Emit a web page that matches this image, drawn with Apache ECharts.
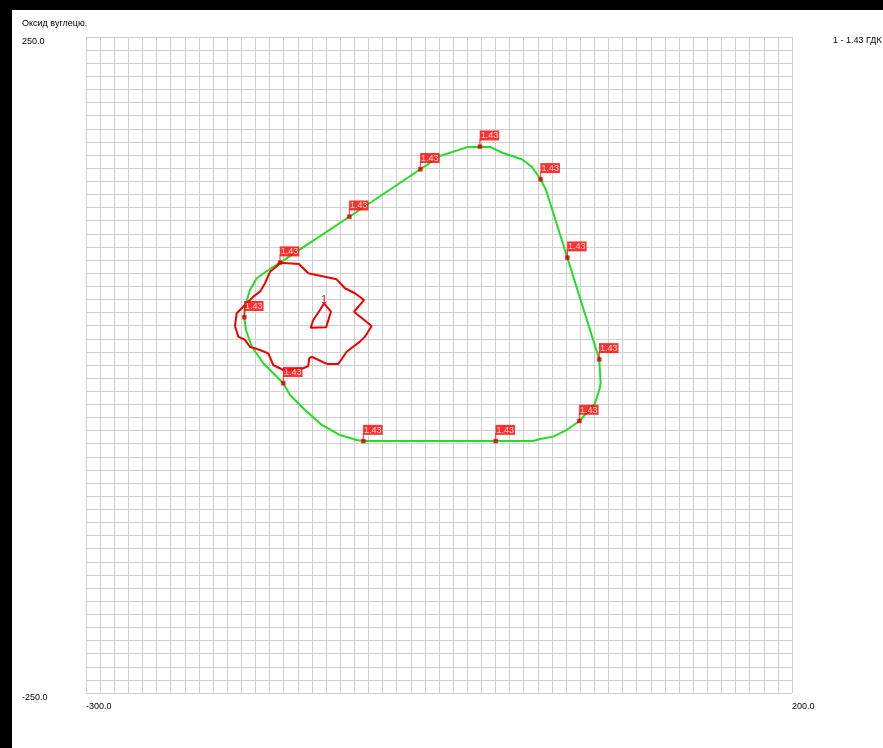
<!DOCTYPE html>
<html>
<head>
<meta charset="utf-8">
<script src="https://cdn.jsdelivr.net/npm/echarts@6/dist/echarts.min.js"></script>
<style>
html,body{margin:0;padding:0;background:#000;width:883px;height:748px;overflow:hidden;}
#c{position:absolute;left:12px;top:10px;width:871px;height:738px;background:#fff;}
</style>
</head>
<body>
<div id="c"></div>
<script>
// ---- data ----
var titleText = 'Оксид вуглецю.';
var legendText = '1 - 1.43 ГДК';
var xMin = -300, xMax = 200, yMin = -250, yMax = 250, step = 10;
var xTickLabels = ['-300.0', '200.0'];
var yTickLabels = ['-250.0', '250.0'];

var greenContour = [[-162.6,78.0],[-113.5,113.0],[-63.2,149.2],[-49.3,159.3],[-30.4,165.9],[-21,166.4],[-13.9,166.2],[-4.7,161.6],[8.6,156.8],[15.7,151.1],[22,141.5],[25.8,133.4],[40.9,81.8],[63.5,4.3],[64.5,-13.9],[63.5,-19],[60.5,-29.2],[49.4,-42.7],[40.4,-49.5],[31,-54.6],[21.5,-56.4],[16.8,-57.9],[-9.8,-58],[-103.6,-58],[-108.3,-57.2],[-120.1,-53.4],[-132.9,-45.7],[-144.9,-34.3],[-155.5,-22.9],[-160.3,-13.9],[-174.4,1.3],[-182.6,13.9],[-186.7,26.7],[-187.9,36.4],[-187.4,44.4],[-183.9,57.2],[-179.1,66.1],[-170.9,72.4],[-162.6,78.0]];

var redContour = [[-162.6,78.0],[-149.2,77.0],[-142.6,69.9],[-122.5,65.3],[-116.6,58.5],[-109.5,54.7],[-103.1,49.5],[-110.2,40.6],[-97.7,29.7],[-102.4,21.6],[-106,17.8],[-115.4,10.1],[-121.3,0.8],[-129.5,0.8],[-140.2,6.3],[-141.9,5.1],[-142.6,-0.8],[-146.1,-2.5],[-160.3,-3.8],[-167.4,0],[-170.9,8.9],[-176.8,11.4],[-183.9,13.9],[-187.4,19.1],[-192.1,21.6],[-194.5,29.7],[-193.3,39.4],[-187.4,45.7],[-181.5,52.1],[-176.8,55.9],[-173.2,62.3],[-169.7,71.1],[-163.8,76.2],[-162.6,78.0]];

var redInner = [[-131.4,47],[-126.5,40.6],[-130,28.7],[-140.9,28.4],[-139,34.3],[-134.3,41.9],[-131.4,47]];
var innerLabelPoint = [[-131.4,49.5]];
var innerLabelText = '1';

var markerPoints = [[-162.6,78],[-187.9,36.4],[-160.3,-13.9],[-113.5,113],[-63.2,149.2],[-21,166.4],[22,141.5],[40.9,81.8],[63.5,4.3],[49.4,-42.7],[-9.8,-58],[-103.6,-58]];
var markerValue = 1.43;

// ---- chart ----
var FONT = '"Liberation Sans", Arial, sans-serif';
var chart = echarts.init(document.getElementById('c'), null, {renderer:'canvas'});

function fmt1(v){ return Number(v).toFixed(1); }

var option = {
  animation: false,
  title: [
    {text: titleText, left: 10, top: 9, padding: 0,
     textStyle:{fontSize:9, fontWeight:'normal', color:'#000', fontFamily:FONT, lineHeight:10}},
    {text: legendText, left: 821, top: 26, padding: 0,
     textStyle:{fontSize:9, fontWeight:'normal', color:'#000', fontFamily:FONT, lineHeight:10}}
  ],
  grid: {left: 74, top: 27, width: 706, height: 656, containLabel:false},
  xAxis: {
    type:'value', min:xMin, max:xMax, interval:step,
    axisLine:{show:false}, axisTick:{show:false},
    splitLine:{show:true, lineStyle:{color:'#cfcfcf', width:1}},
    axisLabel:{show:true, align:'left', margin:9, fontSize:9, color:'#000', fontFamily:FONT,
      formatter:function(v){ var s=fmt1(v); return xTickLabels.indexOf(s)>=0 ? s : ''; }}
  },
  yAxis: {
    type:'value', min:yMin, max:yMax, interval:step,
    axisLine:{show:false}, axisTick:{show:false},
    splitLine:{show:true, lineStyle:{color:'#cfcfcf', width:1}},
    axisLabel:{show:true, align:'left', verticalAlign:'top', margin:64, fontSize:9, color:'#000', fontFamily:FONT,
      formatter:function(v){ var s=fmt1(v); return yTickLabels.indexOf(s)>=0 ? s : ''; }}
  },
  series: [
    {type:'line', data: greenContour, showSymbol:false, symbol:'none', z:2,
     lineStyle:{color:'#22dd22', width:2}, silent:true},
    {type:'line', data: redContour, showSymbol:false, symbol:'none', z:3,
     lineStyle:{color:'#ee0000', width:2}, silent:true},
    {type:'line', data: redInner, showSymbol:false, symbol:'none', z:3,
     lineStyle:{color:'#ee0000', width:2}, silent:true},
    {type:'scatter', data: innerLabelPoint, symbolSize:1, z:7,
     itemStyle:{color:'#ee0000', opacity:1},
     label:{show:true, position:[0.5,0.5], align:'center', verticalAlign:'middle',
       formatter:innerLabelText, fontSize:10, color:'#ee0000', fontFamily:FONT, opacity:1,
       textBorderWidth:0, textBorderColor:'transparent', textShadowBlur:0}},
    // pins
    {type:'scatter', data: markerPoints, symbol:'rect', symbolSize:[1,8], symbolOffset:[0,-4], z:5,
     itemStyle:{color:'#ff0000'}},
    // markers + labels
    {type:'scatter', data: markerPoints, symbol:'rect', symbolSize:4, z:6,
     itemStyle:{color:'#cc0000', borderColor:'#ff0000', borderWidth:0.5},
     label:{show:true, position:[2,-14], align:'left', verticalAlign:'top',
       formatter:function(){ return markerValue.toFixed(2); },
       backgroundColor:'#ff0000', color:'#fff', fontSize:9, fontFamily:FONT,
       lineHeight:9, padding:[1,1,0,1]}}
  ]
};
chart.setOption(option);
</script>
</body>
</html>
